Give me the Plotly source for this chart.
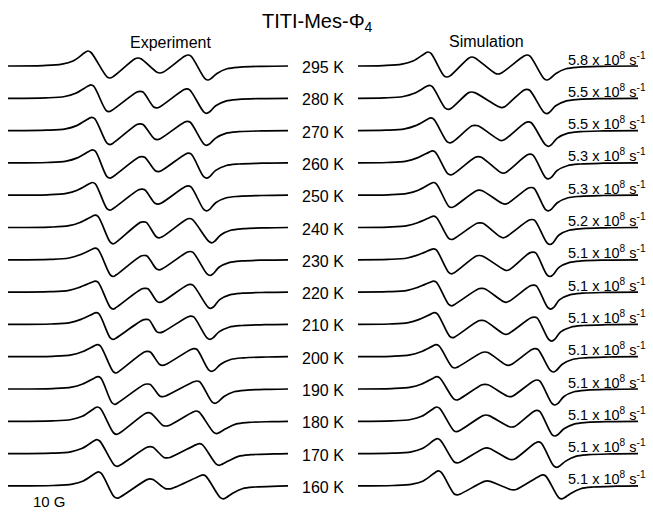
import plotly.graph_objects as go

# ---------------- data ----------------
TEMPS = [295, 280, 270, 260, 250, 240, 230, 220, 210, 200, 190, 180, 170, 160]
RATES = ["5.8", "5.5", "5.5", "5.3", "5.3", "5.2", "5.1",
         "5.1", "5.1", "5.1", "5.1", "5.1", "5.1", "5.1"]

# Experiment: field positions (arb. units from sweep start) of
# peak1, trough1, peak2, trough2, peak3, trough3
EXP_X = [
    [80.0, 102.0, 130.0, 152.0, 180.0, 200.0],
    [82.7, 101.0, 132.0, 148.7, 178.7, 198.7],
    [83.7, 102.0, 132.0, 149.3, 179.3, 198.7],
    [84.3, 102.0, 133.7, 150.3, 180.3, 198.7],
    [84.3, 102.0, 133.7, 150.0, 180.0, 198.7],
    [87.0, 105.3, 135.3, 151.3, 181.3, 203.7],
    [87.0, 105.3, 136.0, 151.3, 182.0, 202.0],
    [87.0, 105.3, 137.0, 152.0, 182.0, 202.7],
    [88.0, 105.3, 138.0, 152.0, 182.7, 202.0],
    [89.3, 108.0, 139.3, 154.7, 186.0, 203.7],
    [89.7, 107.0, 139.3, 154.7, 188.7, 207.0],
    [89.3, 108.7, 140.3, 158.0, 188.0, 208.7],
    [88.7, 109.3, 142.0, 159.0, 191.3, 211.3],
    [90.3, 109.3, 142.0, 160.3, 194.7, 215.3],
]
# Experiment: signal intensity (arb. units) at those points
EXP_Y = [
    [15.0, -12.0, 8.0, -7.0, 11.0, -14.0],
    [13.4, -13.3, 7.0, -9.6, 9.4, -15.0],
    [13.3, -14.0, 6.7, -9.0, 9.3, -14.7],
    [13.0, -15.3, 6.3, -8.7, 9.7, -15.3],
    [12.7, -15.0, 6.0, -9.0, 9.3, -15.7],
    [12.3, -16.3, 5.7, -10.3, 9.0, -15.3],
    [11.7, -16.7, 4.3, -10.0, 8.3, -15.7],
    [11.0, -17.0, 3.7, -10.3, 7.7, -16.3],
    [11.7, -15.0, 5.0, -8.3, 8.3, -15.0],
    [12.0, -16.3, 5.3, -8.7, 8.0, -14.7],
    [12.3, -15.3, 5.0, -7.7, 8.0, -14.3],
    [14.3, -13.0, 8.7, -4.7, 10.3, -12.3],
    [14.0, -12.7, 7.0, -4.3, 10.0, -11.7],
    [14.0, -12.3, 7.0, -3.0, 11.0, -13.0],
]
# Simulation: same features
SIM_X = [
    [70.0, 89.0, 114.0, 140.0, 169.0, 189.0],
    [71.3, 90.3, 113.7, 143.7, 168.7, 188.7],
    [72.7, 92.0, 117.0, 143.7, 170.3, 190.3],
    [74.3, 92.7, 120.3, 145.3, 172.0, 190.3],
    [75.3, 93.7, 121.3, 147.0, 173.0, 190.3],
    [75.3, 93.7, 122.0, 145.3, 173.7, 192.0],
    [75.3, 93.7, 121.3, 148.7, 174.7, 192.0],
    [75.3, 93.7, 123.7, 148.0, 175.3, 192.7],
    [76.3, 94.7, 123.7, 148.0, 176.0, 193.7],
    [78.0, 97.0, 127.0, 150.3, 177.0, 195.3],
    [78.7, 98.7, 127.0, 152.0, 178.7, 197.0],
    [78.7, 98.7, 128.0, 153.7, 178.7, 197.0],
    [79.3, 99.3, 128.7, 153.7, 180.3, 198.7],
    [80.3, 99.3, 129.3, 155.3, 184.7, 203.7],
]
SIM_Y = [
    [14.0, -11.0, 9.0, -8.0, 11.0, -14.0],
    [13.0, -11.0, 6.3, -9.3, 9.0, -15.3],
    [12.7, -12.3, 5.3, -10.0, 8.7, -15.7],
    [12.0, -12.0, 6.3, -10.3, 8.7, -16.0],
    [12.7, -12.3, 5.0, -9.0, 7.7, -15.7],
    [11.3, -12.0, 4.7, -10.3, 8.0, -17.0],
    [11.0, -14.0, 4.3, -10.7, 7.7, -16.7],
    [11.0, -13.7, 3.7, -10.3, 7.0, -17.0],
    [11.7, -13.3, 4.0, -10.0, 7.3, -16.7],
    [12.0, -11.3, 4.7, -8.7, 8.0, -15.3],
    [12.3, -11.0, 4.7, -7.7, 9.0, -16.0],
    [14.3, -10.3, 6.3, -5.7, 11.0, -14.7],
    [15.0, -9.3, 5.7, -6.0, 11.7, -13.7],
    [15.0, -9.0, 5.0, -4.0, 11.0, -13.0],
]
# Line shape: wings (offset from first peak / last trough, intensity)
WING_LEFT = [(-45.0, 0.4), (-26.0, 1.8), (-15.0, 5.0)]
WING_RIGHT = [(9.0, -7.5), (19.0, -2.8), (32.0, -1.1), (55.0, -0.3)]
# rounded tops of the extrema: half width and relative height of the shoulders
SHOULDER_DX, SHOULDER_REL = 3.0, 0.9
SWEEP = 280.0  # sweep width (arb. units)

# ---------------- layout constants ----------------
W, H = 653, 513
ROW0, ROWSTEP = 66.0, 32.3
FONT = "Arial, Liberation Sans, sans-serif"


def build(xs, ys):
    px = [0.0]
    py = [0.0]
    for dx, v in WING_LEFT:
        px.append(xs[0] + dx)
        py.append(v)
    for x, v in zip(xs, ys):
        px += [x - SHOULDER_DX, x, x + SHOULDER_DX]
        py += [v * SHOULDER_REL, v, v * SHOULDER_REL]
    for dx, v in WING_RIGHT:
        if xs[-1] + dx < SWEEP:
            px.append(xs[-1] + dx)
            py.append(v)
    px.append(SWEEP)
    py.append(0.0)
    return px, py


fig = go.Figure()
for i, t in enumerate(TEMPS):
    base = ROW0 + i * ROWSTEP
    for xs, ys, xa in ((EXP_X[i], EXP_Y[i], "x"), (SIM_X[i], SIM_Y[i], "x2")):
        px, py = build(xs, ys)
        fig.add_trace(go.Scatter(
            x=px, y=[base - v for v in py], xaxis=xa, yaxis="y",
            mode="lines", line=dict(color="black", width=1.7, shape="spline", smoothing=1.0),
            hoverinfo="skip", showlegend=False))

annotations = []
for i, t in enumerate(TEMPS):
    base = ROW0 + i * ROWSTEP
    annotations.append(dict(x=323 / W, xref="paper", y=base + 1.5, yref="y",
                            text=f"{t} K", showarrow=False, xanchor="center", yanchor="middle",
                            font=dict(family=FONT, size=16, color="black")))
    annotations.append(dict(x=566 / W, xref="paper", y=base - 7.5, yref="y",
                            text=f"{RATES[i]} x 10<sup>8</sup> s<sup>-1</sup>", showarrow=False,
                            xanchor="left", yanchor="middle",
                            font=dict(family=FONT, size=14.5, color="black")))

annotations += [
    dict(x=317 / W, xref="paper", y=22, yref="y", text="TITI-Mes-Φ<sub>4</sub>", showarrow=False,
         xanchor="center", yanchor="middle", font=dict(family=FONT, size=20, color="black")),
    dict(x=170 / W, xref="paper", y=42, yref="y", text="Experiment", showarrow=False,
         xanchor="center", yanchor="middle", font=dict(family=FONT, size=16, color="black")),
    dict(x=487 / W, xref="paper", y=41, yref="y", text="Simulation", showarrow=False,
         xanchor="center", yanchor="middle", font=dict(family=FONT, size=16, color="black")),
    dict(x=50 / W, xref="paper", y=501, yref="y", text="10 G", showarrow=False,
         xanchor="center", yanchor="middle", font=dict(family=FONT, size=15, color="black")),
]

fig.update_layout(
    width=W, height=H, margin=dict(l=0, r=0, t=0, b=0),
    paper_bgcolor="white", plot_bgcolor="white", showlegend=False,
    xaxis=dict(domain=[8 / W, 288 / W], range=[0, SWEEP], visible=False, fixedrange=True),
    xaxis2=dict(domain=[358 / W, 638 / W], range=[0, SWEEP], visible=False, anchor="y", fixedrange=True),
    yaxis=dict(domain=[0, 1], range=[H, 0], visible=False, fixedrange=True),
    annotations=annotations,
)

fig.write_html("out.html")
